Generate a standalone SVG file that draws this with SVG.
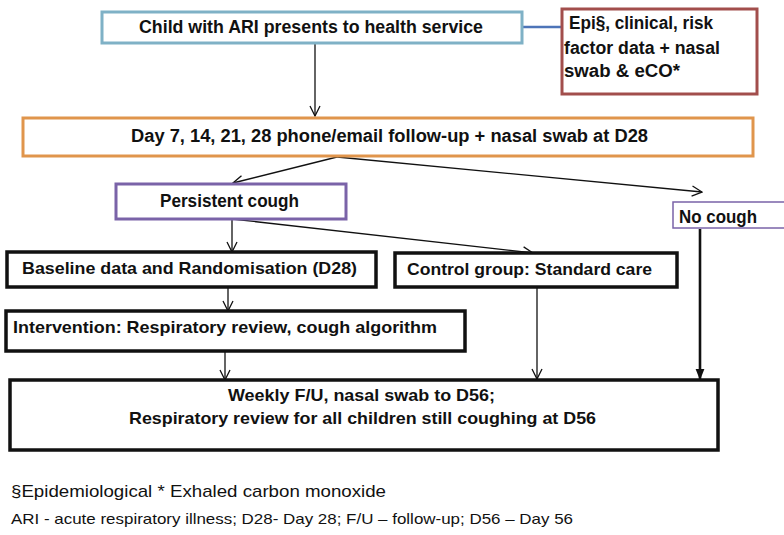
<svg xmlns="http://www.w3.org/2000/svg" width="784" height="535" viewBox="0 0 784 535">
<defs>
<style>
.t{font-family:"Liberation Sans",Arial,sans-serif;font-weight:bold;fill:#111}
.f{font-family:"Liberation Sans",Arial,sans-serif;fill:#111}
.c{fill:none;stroke:#111;stroke-width:1.3}
.box{fill:#fff;stroke-width:3}
.blk{fill:#fff;stroke:#111;stroke-width:3.5}
</style>
<marker id="av" viewBox="0 0 12 12" refX="11" refY="6" markerWidth="12" markerHeight="12" markerUnits="userSpaceOnUse" orient="auto">
<path d="M1,1 L11,6 L1,11" fill="none" stroke="#111" stroke-width="1.3"/>
</marker>
<marker id="af" viewBox="0 0 10 10" refX="9" refY="5" markerWidth="11" markerHeight="11" markerUnits="userSpaceOnUse" orient="auto">
<path d="M0,1 L10,5 L0,9 Z" fill="#111"/>
</marker>
</defs>
<rect width="784" height="535" fill="#fff"/>
<g id="connectors">
<line x1="522" y1="27" x2="562" y2="27" stroke="#4d74b8" stroke-width="2.5"/>
<line class="c" x1="315" y1="44" x2="315" y2="116" marker-end="url(#av)"/>
<line class="c" x1="337" y1="157" x2="233" y2="183" marker-end="url(#av)"/>
<line class="c" x1="337" y1="157" x2="702" y2="192" marker-end="url(#av)"/>
<line class="c" x1="232" y1="219" x2="232" y2="252" marker-end="url(#av)"/>
<line class="c" x1="232" y1="219" x2="533" y2="253" marker-end="url(#av)"/>
<line class="c" x1="228" y1="288" x2="228" y2="311" marker-end="url(#av)"/>
<line class="c" x1="225" y1="351" x2="225" y2="380" marker-end="url(#av)"/>
<line class="c" x1="537" y1="288" x2="537" y2="379" marker-end="url(#av)"/>
<line x1="700" y1="229" x2="700" y2="379" stroke="#111" stroke-width="2.6" marker-end="url(#af)"/>
</g>
<g id="n1">
<rect class="box" x="102" y="12" width="420" height="31" stroke="#7fb1c6"/>
<text class="t" x="311" y="33" text-anchor="middle" font-size="18" textLength="344" lengthAdjust="spacingAndGlyphs">Child with ARI presents to health service</text>
</g>
<g id="n2">
<rect class="box" x="562" y="9" width="195" height="85" stroke="#a24e4c"/>
<text class="t" x="569" y="29" font-size="18" textLength="144" lengthAdjust="spacingAndGlyphs">Epi§, clinical, risk</text>
<text class="t" x="564" y="54" font-size="18" textLength="156" lengthAdjust="spacingAndGlyphs">factor data + nasal</text>
<text class="t" x="564" y="77" font-size="18" textLength="116" lengthAdjust="spacingAndGlyphs">swab &amp; eCO*</text>
</g>
<g id="n3">
<rect class="box" x="23" y="118" width="730" height="38" stroke="#e0954c"/>
<text class="t" x="389.5" y="142" text-anchor="middle" font-size="18" textLength="517" lengthAdjust="spacingAndGlyphs">Day 7, 14, 21, 28 phone/email follow-up + nasal swab at D28</text>
</g>
<g id="n4">
<rect class="box" x="116" y="184" width="230" height="35" stroke="#7a63a8"/>
<text class="t" x="229.5" y="207" text-anchor="middle" font-size="18" textLength="139" lengthAdjust="spacingAndGlyphs">Persistent cough</text>
</g>
<g id="n5">
<rect x="673" y="202" width="115" height="26" fill="#fff" stroke="#7a63a8" stroke-width="1.5"/>
<text class="t" x="679" y="223" font-size="18" textLength="78" lengthAdjust="spacingAndGlyphs">No cough</text>
</g>
<g id="n6">
<rect class="blk" x="7" y="252" width="369" height="35"/>
<text class="t" x="22" y="274" font-size="17" textLength="335" lengthAdjust="spacingAndGlyphs">Baseline data and Randomisation (D28)</text>
</g>
<g id="n7">
<rect class="blk" x="395" y="253" width="282" height="34"/>
<text class="t" x="407" y="275" font-size="17" textLength="245" lengthAdjust="spacingAndGlyphs">Control  group: Standard care</text>
</g>
<g id="n8">
<rect class="blk" x="6" y="311" width="459" height="40"/>
<text class="t" x="13" y="333" font-size="17" textLength="424" lengthAdjust="spacingAndGlyphs">Intervention:  Respiratory  review, cough algorithm</text>
</g>
<g id="n9">
<rect class="blk" x="10" y="380" width="708" height="70"/>
<text class="t" x="361.5" y="401" text-anchor="middle" font-size="17" textLength="267" lengthAdjust="spacingAndGlyphs">Weekly F/U, nasal swab to D56;</text>
<text class="t" x="362.5" y="424" text-anchor="middle" font-size="17" textLength="467" lengthAdjust="spacingAndGlyphs">Respiratory review for all children still coughing at D56</text>
</g>
<g id="notes">
<text class="f" x="11" y="497" font-size="17" textLength="375" lengthAdjust="spacingAndGlyphs">§Epidemiological * Exhaled carbon monoxide</text>
<text class="f" x="11" y="524" font-size="15" textLength="562" lengthAdjust="spacingAndGlyphs">ARI - acute respiratory illness; D28- Day 28; F/U – follow-up; D56 – Day 56</text>
</g>
</svg>
